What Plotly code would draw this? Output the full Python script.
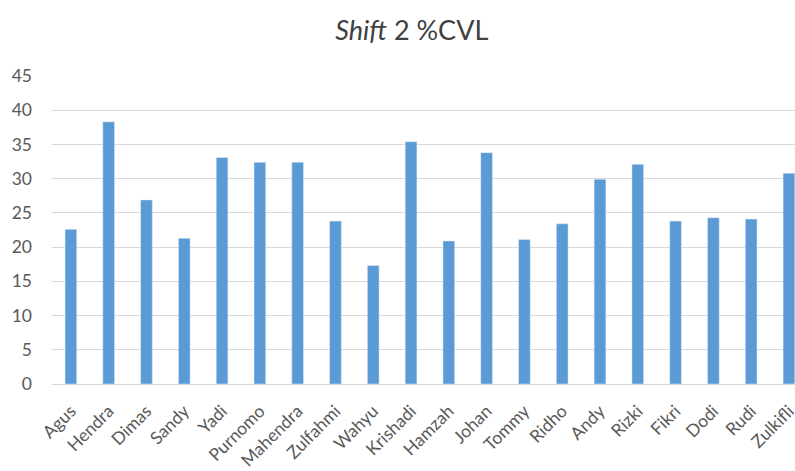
import plotly.graph_objects as go

names = ["Agus", "Hendra", "Dimas", "Sandy", "Yadi", "Purnomo", "Mahendra", "Zulfahmi",
         "Wahyu", "Krishadi", "Hamzah", "Johan", "Tommy", "Ridho", "Andy", "Rizki",
         "Fikri", "Dodi", "Rudi", "Zulkifli"]
cvl = [22.6, 38.3, 26.9, 21.3, 33.1, 32.4, 32.4, 23.8, 17.3, 35.4,
       20.9, 33.8, 21.1, 23.4, 29.9, 32.1, 23.8, 24.3, 24.1, 30.8]
y_ticks = [0, 5, 10, 15, 20, 25, 30, 35, 40, 45]

fig = go.Figure(go.Bar(x=list(range(len(names))), y=cvl, marker_color="#5b9bd5",
                       width=0.31))
fig.update_layout(
    width=795, height=471,
    margin=dict(l=52, r=0, t=76, b=87, autoexpand=False),
    paper_bgcolor="white", plot_bgcolor="white",
    showlegend=False,
    font=dict(family="Lato, Open Sans, sans-serif", color="#595959", size=17.5),
    title=dict(text="<i>Shift</i> 2 %CVL", x=0.518, xanchor="center", y=0.936, yanchor="middle",
               font=dict(size=27, color="#404040")),
    xaxis=dict(tickmode="array", tickvals=list(range(len(names))), ticktext=names,
               tickangle=-45, range=[-0.5, 19.16], showgrid=False, showline=True,
               linecolor="#d9d9d9", linewidth=1, ticks="", automargin=False,
               ticklabelstandoff=9, ticklabeloverflow="allow"),
    yaxis=dict(range=[0, 45], tickvals=y_ticks, showgrid=True, gridcolor="#d9d9d9",
               gridwidth=1, zeroline=False, ticks="", automargin=False,
               ticklabelstandoff=19),
)
fig.write_html("out.html", config={"displayModeBar": False},
               post_script="document.body.style.margin='0';document.body.style.overflow='hidden';")
